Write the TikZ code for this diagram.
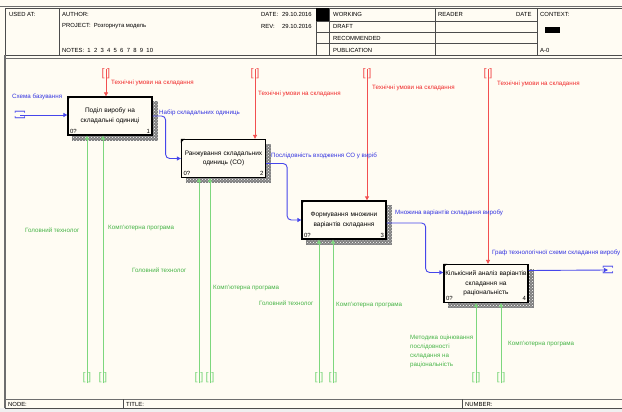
\documentclass[tikz,border=0pt]{standalone}
\usepackage{fontspec}
\setmainfont{Liberation Sans}
\usetikzlibrary{arrows.meta,patterns,backgrounds,calc}

\definecolor{paper}{RGB}{255,252,243}
\definecolor{ctrlline}{RGB}{242,80,80}
\definecolor{ctrltext}{RGB}{240,40,40}
\definecolor{flowline}{RGB}{70,70,235}
\definecolor{flowtext}{RGB}{50,50,225}
\definecolor{mechline}{RGB}{125,215,125}
\definecolor{mechtext}{RGB}{70,180,70}
\definecolor{frame}{RGB}{110,110,110}

\tikzset{
  funcbox/.style={draw=black, line width=1.3pt, fill=paper, minimum width=84pt,
    minimum height=38pt, text width=82pt, align=center, inner sep=1pt,
    font=\fontsize{6.5}{9.5}\selectfont},
  numtag/.style={font=\fontsize{6}{6}\selectfont, inner sep=0.5pt},
  ctrl/.style={draw=ctrlline, line width=0.8pt, -{Triangle[length=4pt,width=4pt]}},
  flow/.style={draw=flowline, line width=0.9pt, rounded corners=4pt, -{Triangle[length=4pt,width=4pt]}},
  mech/.style={draw=mechline, line width=0.9pt, -{Triangle[length=4pt,width=4pt]}},
  tag/.style={font=\fontsize{6.2}{9}\selectfont, inner sep=0pt, anchor=west},
  tunnel/.style={inner sep=0pt, font=\fontsize{11}{11}\selectfont},
  hdr/.style={font=\fontsize{5.9}{6}\selectfont, inner sep=0pt, anchor=west},
}

\begin{document}
\begin{tikzpicture}[x=1pt, y=-1pt]
\useasboundingbox (0,0) rectangle (622,412);

% Paper
\begin{scope}[on background layer]
  \fill[paper] (0,0) rectangle (622,412);
  \fill[black!6] (0,408) rectangle (622,412);
\end{scope}

% Header frame
\draw[frame, line width=0.8pt] (0,6) -- (622,6);
\draw[black!70, line width=0.6pt] (5,8) rectangle (623,55);
\foreach \x in {59,316,329,435,537}
  \draw[black!70, line width=0.6pt] (\x,8) -- (\x,55);
\foreach \y in {21,32,43}
  \draw[black!70, line width=0.6pt] (316,\y) -- (537,\y);
\fill (316,8) rectangle (329,21);
\fill (545,27) rectangle (560,33);

% Header texts
\node[hdr] (usedat) at (9,14) {USED AT:};
\node[hdr] (author) at (62,14) {AUTHOR:};
\node[hdr] (project) at (62,26) {PROJECT:\ \ Розгорнута модель};
\node[hdr] (notes) at (62,50) {NOTES:\ \ 1\ \ 2\ \ 3\ \ 4\ \ 5\ \ 6\ \ 7\ \ 8\ \ 9\ \ 10};
\node[hdr] (date) at (261,14) {DATE:};
\node[hdr] (dateval) at (282,14) {29.10.2016};
\node[hdr] (rev) at (261,26) {REV:};
\node[hdr] (revval) at (282,26) {29.10.2016};
\node[hdr] (working) at (333,14) {WORKING};
\node[hdr] (draft) at (333,26) {DRAFT};
\node[hdr] (recom) at (333,38) {RECOMMENDED};
\node[hdr] (public) at (333,50) {PUBLICATION};
\node[hdr] (reader) at (438,14) {READER};
\node[hdr] (rdate) at (516,14) {DATE};
\node[hdr] (context) at (540,14) {CONTEXT:};
\node[hdr] (nodeno) at (540,50) {A-0};

% Diagram frame and footer
\draw[frame, line width=0.8pt] (5,58) -- (623,58);
\draw[frame, line width=1.2pt] (5,55) -- (5,408);
\draw[frame, line width=0.8pt] (5,399) -- (623,399);
\draw[black!70, line width=0.6pt] (5,408) -- (623,408);
\foreach \x in {123,462}
  \draw[black!70, line width=0.6pt] (\x,399) -- (\x,408);
\node[hdr] (fnode) at (8,404) {NODE:};
\node[hdr] (ftitle) at (126,404) {TITLE:};
\node[hdr] (fnumber) at (465,404) {NUMBER:};

% Boxes
\node[funcbox] (b1) at (110,116) {Поділ виробу на\\складальні одиниці};
\node[funcbox] (b2) at (223.5,158.5) {Ранжування складальних\\одиниць (СО)};
\node[funcbox] (b3) at (344,220) {Формування множини\\варіантів складання};
\node[funcbox] (b4) at (486,283.5) {Кількісний аналіз варіантів\\складання на\\раціональність};

\begin{scope}[on background layer]
  \foreach \i in {1,...,4} {
    \fill[black!50]
      ([shift={(5pt,-5pt)}]b\i.north west) rectangle ([shift={(5pt,-5pt)}]b\i.south east);
    \fill[pattern=crosshatch dots, pattern color=white]
      ([shift={(5pt,-5pt)}]b\i.north west) rectangle ([shift={(5pt,-5pt)}]b\i.south east);
  }
\end{scope}

\foreach \i in {1,...,4} {
  \fill (b\i.north west) -- ++(4,0) -- ++(-4,4) -- cycle;
  \node[numtag, anchor=south west] (cost\i) at ([shift={(2pt,1.5pt)}]b\i.south west) {0?};
  \node[numtag, anchor=south east] (num\i) at ([shift={(-2pt,1.5pt)}]b\i.south east) {\i};
}

% Controls
\foreach \i/\x in {1/106,2/255,3/367,4/488} {
  \node[tunnel, text=ctrlline] (c\i) at (\x,74) {[\hspace{2.5pt}]};
  \draw[ctrl] (c\i.north) -- (c\i |- b\i.north);
}
\node[tag, text=ctrltext] (lc1) at (111,83) {Технічні умови на складання};
\node[tag, text=ctrltext] (lc2) at (258,94) {Технічні умови на складання};
\node[tag, text=ctrltext] (lc3) at (372,88) {Технічні умови на складання};
\node[tag, text=ctrltext] (lc4) at (497,84) {Технічні умови на складання};

% Inputs and outputs
\node[tunnel, text=flowline, rotate=90] (tin) at (20,115) {[\hspace{2.5pt}]};
\node[tunnel, text=flowline, rotate=90] (tout) at (608,270) {[\hspace{2.5pt}]};
\draw[flow] (tin.center) -- (tin -| b1.west);
\draw[flow] (b1.east) -- ++(13,0) |- (b2.west);
\draw[flow] ([yshift=-5pt]b2.east) -- ++(21,0) |- (b3.west);
\draw[flow] ([yshift=-3pt]b3.east) -- ++(39,0) |- ([yshift=11pt]b4.west);
\draw[flow] ([yshift=13pt]b4.east) -- (tout.center);
\node[tag, text=flowtext] (li) at (12,97) {Схема базування};
\node[tag, text=flowtext] (lo1) at (159,113) {Набір складальних одиниць};
\node[tag, text=flowtext] (lo2) at (271,156) {Послідовність входження СО у виріб};
\node[tag, text=flowtext] (lo3) at (395,213) {Множина варіантів складання виробу};
\node[tag, text=flowtext] (lo4) at (492,253) {Граф технологічної схеми складання виробу};

% Mechanisms
\foreach \j/\x/\i in {1/87/1,2/103/1,3/199/2,4/210/2,5/319/3,6/333/3,7/476/4,8/501/4} {
  \node[tunnel, text=mechline] (m\j) at (\x,378) {[\hspace{2.5pt}]};
  \draw[mech] (m\j.south) -- (m\j |- b\i.south);
}
\node[tag, text=mechtext] (lm1) at (25,230) {Головний технолог};
\node[tag, text=mechtext] (lm2) at (108,228) {Комп'ютерна програма};
\node[tag, text=mechtext] (lm3) at (132,270) {Головний технолог};
\node[tag, text=mechtext] (lm4) at (213,288) {Комп'ютерна програма};
\node[tag, text=mechtext] (lm5) at (259,303) {Головний технолог};
\node[tag, text=mechtext] (lm6) at (336,305) {Комп'ютерна програма};
\node[tag, text=mechtext, anchor=north west, align=left] (lm7) at (410,335)
  {Методика оцінювання\\послідовності\\складання на\\раціональність};
\node[tag, text=mechtext] (lm8) at (508,344) {Комп'ютерна програма};

\end{tikzpicture}
\end{document}
